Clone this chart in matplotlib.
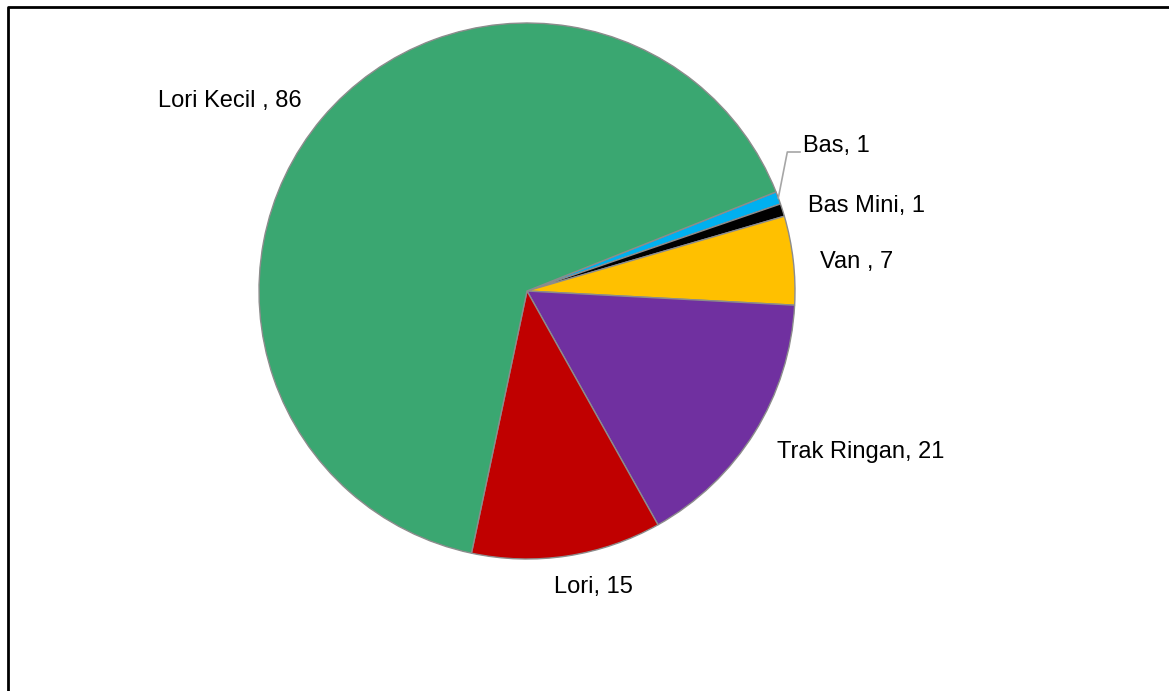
import numpy as np
import matplotlib
matplotlib.use('Agg')
import matplotlib.pyplot as plt
from matplotlib.lines import Line2D

plt.rcParams['font.family'] = ['Liberation Sans', 'DejaVu Sans']

names = ['Bas', 'Bas Mini', 'Van ', 'Trak Ringan', 'Lori', 'Lori Kecil ']
values = [1, 1, 7, 21, 15, 86]
colors = ['#00B0F0', '#000000', '#FFC000', '#7030A0', '#C00000', '#3AA771']
labels = [f"{n}, {v}" for n, v in zip(names, values)]

W, H = 1169, 691
fig = plt.figure(figsize=(W / 100, H / 100), dpi=100)
ax = fig.add_axes([0, 0, 1, 1])

cx, cy, r = 527, H - 291, 268
wedges, texts = ax.pie(values, labels=labels, colors=colors, startangle=21.7,
                       counterclock=False, center=(cx, cy), radius=r,
                       labeldistance=1.1, frame=True,
                       wedgeprops=dict(edgecolor='#8c8c8c', linewidth=1.0),
                       textprops=dict(fontsize=17, color='black'))
ax.set_xlim(0, W)
ax.set_ylim(0, H)
ax.set_aspect('equal')
ax.axis('off')

# alignment relative to the pie centre, not the data origin
for w, t in zip(wedges, texts):
    mid = np.deg2rad((w.theta1 + w.theta2) / 2)
    t.set_horizontalalignment('left' if np.cos(mid) >= 0 else 'right')

# small nudges (pixels) to match the original label placement
nudges = {1: (0, -4), 2: (0, -5), 3: (0, -5), 4: (-17, -5)}
for i, (dx, dy) in nudges.items():
    x, y = texts[i].get_position()
    texts[i].set_position((x + dx, y + dy))

# Bas label moved up with a leader line
w = wedges[0]
mid = np.deg2rad((w.theta1 + w.theta2) / 2)
ex, ey = cx + r * np.cos(mid), cy + r * np.sin(mid)
tx, ty = 803, H - 146
texts[0].set_position((tx, ty))
texts[0].set_horizontalalignment('left')
ax.plot([ex, ex + 9, tx - 3], [ey, ty - 6, ty - 6], color='#a6a6a6', lw=1.2)

# chart frame
fig.add_artist(Line2D([8 / W, 8 / W, 1], [0, 1 - 7 / H, 1 - 7 / H],
                      transform=fig.transFigure, color='black', lw=2))

fig.savefig('out.png', dpi=100)
